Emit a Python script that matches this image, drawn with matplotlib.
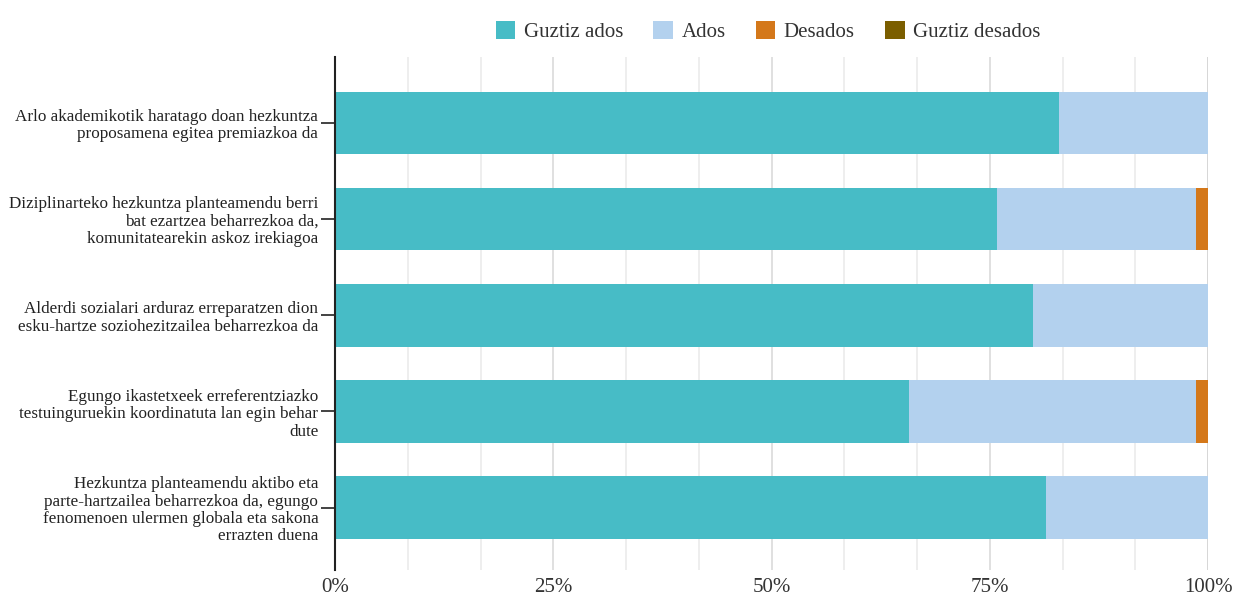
import matplotlib

matplotlib.use("Agg")
import matplotlib.pyplot as plt
import numpy as np
from matplotlib.ticker import FixedLocator, PercentFormatter

plt.rcParams["font.family"] = ["Liberation Serif", "DejaVu Serif"]

categories = [
    "Arlo akademikotik haratago doan hezkuntza\nproposamena egitea premiazkoa da",
    "Diziplinarteko hezkuntza planteamendu berri\nbat ezartzea beharrezkoa da,\nkomunitatearekin askoz irekiagoa",
    "Alderdi sozialari arduraz erreparatzen dion\nesku-hartze soziohezitzailea beharrezkoa da",
    "Egungo ikastetxeek erreferentziazko\ntestuinguruekin koordinatuta lan egin behar\ndute",
    "Hezkuntza planteamendu aktibo eta\nparte-hartzailea beharrezkoa da, egungo\nfenomenoen ulermen globala eta sakona\nerrazten duena",
]
series = ["Guztiz ados", "Ados", "Desados", "Guztiz desados"]
guztiz_ados = [82.9, 75.8, 80.0, 65.7, 81.4]
ados = [17.1, 22.8, 20.0, 32.9, 18.6]
desados = [0.0, 1.4, 0.0, 1.4, 0.0]
guztiz_desados = [0.0, 0.0, 0.0, 0.0, 0.0]
colors = ["#47bcc6", "#b3d1ee", "#d4781a", "#7b5e00"]

fig = plt.figure(figsize=(12.34, 5.99), dpi=100)
ax = fig.add_axes([0.2715, 0.0484, 0.7075, 0.8564])

y = np.arange(len(categories))
left = np.zeros(len(categories))
for name, vals, c in zip(series, [guztiz_ados, ados, desados, guztiz_desados], colors):
    vals = np.array(vals)
    ax.barh(y, vals, left=left, height=0.65, color=c, label=name, zorder=3)
    left += vals

ax.set_xlim(0, 100)
ax.set_ylim(len(categories) - 1 + 0.65, -0.687)

ax.xaxis.set_major_locator(FixedLocator([0, 25, 50, 75, 100]))
ax.xaxis.set_minor_locator(FixedLocator(np.arange(0, 101, 100 / 12)))
ax.xaxis.set_major_formatter(PercentFormatter(decimals=0))
ax.grid(axis="x", which="minor", color="#ebebeb", lw=1.2, zorder=0)
ax.grid(axis="x", which="major", color="#dadada", lw=1.2, zorder=0)
ax.axvline(100, color="#cccccc", lw=1.4, zorder=1)
ax.tick_params(axis="x", which="both", length=0, labelsize=15, colors="#333333", pad=6)

ax.set_yticks(y)
ax.set_yticklabels(categories, fontsize=12.3, color="#222222", linespacing=1.12)
ax.tick_params(axis="y", direction="inout", length=20, width=1.2, color="#222222", pad=2)

for s in ["top", "right", "bottom"]:
    ax.spines[s].set_visible(False)
ax.spines["left"].set_color("#222222")
ax.spines["left"].set_linewidth(1.5)
ax.spines["left"].set_zorder(4)

fig.legend(
    loc="upper center", bbox_to_anchor=(0.6224, 0.997), ncol=4, frameon=False,
    fontsize=15, handlelength=0.95, handleheight=0.95, handletextpad=0.4,
    columnspacing=1.45, labelcolor="#333333",
)

fig.savefig("out.png", dpi=100)
